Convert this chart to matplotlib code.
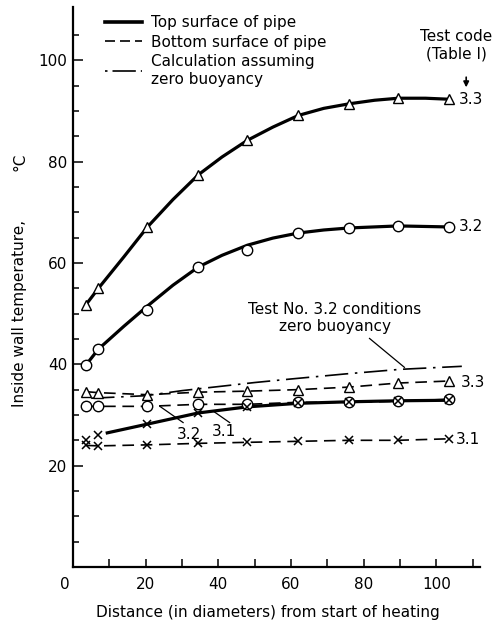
import matplotlib
matplotlib.use("Agg")
import matplotlib.pyplot as plt
import matplotlib.transforms as mtransforms
from matplotlib.lines import Line2D

# thermocouple stations (diameters from start of heating)
x_pos = [3.5, 7, 20.5, 34.5, 48, 62, 76, 89.5, 103.5]

# measured points
top_33 = [51.7, 55.0, 67.1, 77.4, 84.2, 89.1, 91.3, 92.5, 92.3]
top_32 = [39.8, 43.0, 50.7, 59.2, 62.6, 65.9, 66.9, 67.3, 67.1]
top_31 = [25.1, 26.1, 28.2, 30.4, 31.6, 32.3, 32.6, 32.8, 32.9]
bot_33 = [34.6, 34.4, 34.0, 34.5, 34.7, 35.0, 35.5, 36.3, 36.7]
bot_32 = [31.7, 31.7, 31.7, 32.1, 32.1, 32.5, 32.5, 32.7, 33.1]
bot_31 = [24.0, 23.9, 24.1, 24.4, 24.6, 24.8, 25.0, 25.0, 25.3]

# faired curves through the top-surface points
curve33_x = [3.5, 7, 14, 20.5, 27.5, 34.5, 41, 48, 55, 62, 69, 76, 83, 89.5, 97, 103.5]
curve33_y = [51.7, 55.0, 61.2, 67.1, 72.5, 77.4, 80.9, 84.2, 86.8, 89.1, 90.5, 91.4, 92.1, 92.5, 92.5, 92.3]
curve32_x = [3.5, 7, 14, 20.5, 27.5, 34.5, 41, 48, 55, 62, 69, 76, 89.5, 103.5]
curve32_y = [39.8, 43.0, 47.5, 51.5, 55.6, 59.2, 61.5, 63.5, 64.9, 65.9, 66.5, 66.9, 67.3, 67.1]
curve31_x = [9, 20.5, 34.5, 48, 62, 76, 89.5, 103.5]
curve31_y = [26.4, 28.2, 30.4, 31.6, 32.3, 32.6, 32.8, 32.9]

# calculation assuming zero buoyancy (test 3.2 conditions)
calc_x = [5, 20, 30, 40, 50, 60, 75, 90, 107]
calc_y = [33.3, 33.8, 34.8, 35.6, 36.4, 37.1, 38.1, 39.0, 39.6]

plt.rcParams["font.family"] = "DejaVu Sans"
FS = 11

fig = plt.figure(figsize=(5.03, 6.24), dpi=100)
ax = fig.add_axes([73 / 503, 57 / 624, (480 - 73) / 503, (617 - 57) / 624])

thick = dict(color="black", linewidth=2.3, solid_capstyle="butt")
dashed = dict(color="black", linewidth=1.2, dashes=(7, 4))
mk = dict(markerfacecolor="white", markeredgecolor="black", markeredgewidth=1.0, linestyle="none")

ax.plot(calc_x, calc_y, color="black", linewidth=1.2, dashes=(14, 4, 1.5, 4))

ax.plot(x_pos, bot_33, **dashed)
ax.plot(x_pos, bot_32, **dashed)
ax.plot(x_pos, bot_31, **dashed)

ax.plot(curve33_x, curve33_y, **thick)
ax.plot(curve32_x, curve32_y, **thick)
ax.plot(curve31_x, curve31_y, **thick)

ax.plot(x_pos, top_33, marker="^", markersize=7.5, **mk)
ax.plot(x_pos, bot_33, marker="^", markersize=7.5, **mk)
ax.plot(x_pos, top_32, marker="o", markersize=7.5, **mk)
ax.plot(x_pos, bot_32, marker="o", markersize=7.5, **mk)
ax.plot(x_pos, top_31, marker="x", markersize=6, color="black", markeredgewidth=1.1, linestyle="none")
ax.plot(x_pos, bot_31, marker="x", markersize=6, color="black", markeredgewidth=1.1, linestyle="none")

# axes
ax.set_xlim(0, 112)
ax.set_ylim(0, 110.5)
for s in ["top", "right"]:
    ax.spines[s].set_visible(False)
ax.spines["left"].set_linewidth(1.6)
ax.spines["bottom"].set_linewidth(1.6)
ax.set_xticks([0, 20, 40, 60, 80, 100])
ax.set_xticks(range(10, 111, 20), minor=True)
ax.set_yticks([20, 40, 60, 80, 100])
ax.set_yticks([v for v in range(5, 110, 5) if v % 20], minor=True)
ax.tick_params(axis="both", which="both", direction="in", width=1.1, labelsize=FS)
ax.tick_params(axis="x", which="both", length=6, pad=7)
ax.tick_params(axis="y", which="major", length=7, pad=4)
ax.tick_params(axis="y", which="minor", length=4)
zero_lab = ax.get_xticklabels()[0]
zero_lab.set_transform(zero_lab.get_transform() + mtransforms.ScaledTranslation(-8 / 100, 0, fig.dpi_scale_trans))

fig.text(268 / 503, 1 - 612 / 624, "Distance (in diameters) from start of heating",
         ha="center", va="center", fontsize=FS)
fig.text(20 / 503, 1 - 313 / 624, "Inside wall temperature,", rotation=90,
         ha="center", va="center", fontsize=FS)
fig.text(20 / 503, 1 - 162 / 624, "°C", rotation=90, ha="center", va="center", fontsize=FS)

# curve labels
ax.text(106.3, 92.3, "3.3", ha="left", va="center", fontsize=FS)
ax.text(106.3, 67.1, "3.2", ha="left", va="center", fontsize=FS)
ax.text(106.8, 36.5, "3.3", ha="left", va="center", fontsize=FS)
ax.text(105.3, 25.1, "3.1", ha="left", va="center", fontsize=FS)
ax.text(31.9, 26.1, "3.2", ha="center", va="center", fontsize=FS)
ax.text(41.5, 26.8, "3.1", ha="center", va="center", fontsize=FS)
ax.plot([23.9, 30.3], [31.7, 28.5], color="black", linewidth=0.9)
ax.plot([38.5, 43.1], [30.8, 28.5], color="black", linewidth=0.9)

ax.text(72, 49.2, "Test No. 3.2 conditions\nzero buoyancy", ha="center", va="center",
        fontsize=FS, linespacing=1.15)
ax.plot([81.6, 91.2], [45.1, 39.4], color="black", linewidth=0.9)

ax.text(105.4, 102.9, "Test code\n(Table I)", ha="center", va="center", fontsize=FS,
        linespacing=1.2)
ax.annotate("", xy=(108.2, 94.1), xytext=(108.2, 97.2),
            arrowprops=dict(arrowstyle="-|>", color="black", lw=1.2, mutation_scale=8))

# legend
handles = [
    Line2D([], [], color="black", linewidth=2.6),
    Line2D([], [], color="black", linewidth=1.2, dashes=(6, 3)),
    Line2D([], [], color="black", linewidth=1.2, dashes=(1.5, 3, 14, 3)),
]
labels = ["Top surface of pipe", "Bottom surface of pipe", "Calculation assuming\nzero buoyancy"]
fig.legend(handles, labels, loc="upper left", bbox_to_anchor=(105 / 503, 1 - 15 / 624),
           frameon=False, fontsize=FS, handlelength=2.4, handletextpad=0.6,
           borderpad=0, borderaxespad=0, labelspacing=0.3)

fig.savefig("out.png", dpi=100, facecolor="white")
